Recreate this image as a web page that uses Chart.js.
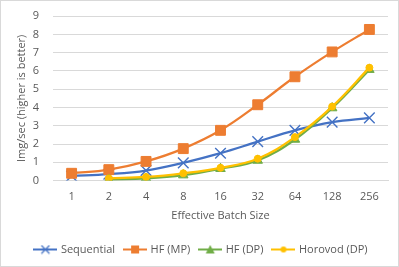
<!DOCTYPE html>
<html>
<head>
<meta charset="utf-8">
<script src="https://cdn.jsdelivr.net/npm/chart.js@4"></script>
<style>
  html, body { margin: 0; padding: 0; background: #fff; }
  #wrap { position: relative; width: 397px; height: 265px; border: 1px solid #d9d9d9; }
</style>
</head>
<body>
<div id="wrap"><canvas id="chart"></canvas></div>
<script>
// batch sizes on the x axis
const batchSizes = ['1', '2', '4', '8', '16', '32', '64', '128', '256'];

// throughput in img/sec
const sequential = [0.25, 0.35, 0.55, 0.97, 1.5, 2.13, 2.75, 3.2, 3.43];
const hfMP       = [0.4, 0.6, 1.05, 1.75, 2.75, 4.15, 5.68, 7.04, 8.27];
const hfDP       = [null, 0.05, 0.12, 0.3, 0.65, 1.1, 2.25, 3.97, 6.07];
const horovodDP  = [null, 0.12, 0.2, 0.4, 0.7, 1.2, 2.38, 4.05, 6.18];

const yTicks = [0, 1, 2, 3, 4, 5, 6, 7, 8, 9];

const FONT = "'Open Sans', 'Liberation Sans', sans-serif";
const TXT = '#595959';

// legend icon: short line with the marker in the middle (Excel style)
function legendIcon(color, style) {
  const c = document.createElement('canvas');
  c.width = 24; c.height = 10;
  const g = c.getContext('2d');
  g.strokeStyle = color; g.lineWidth = 2;
  g.beginPath(); g.moveTo(0, 5); g.lineTo(24, 5); g.stroke();
  g.fillStyle = color;
  if (style === 'rect') g.fillRect(8, 1, 8, 8);
  else if (style === 'triangle') { g.beginPath(); g.moveTo(12, 0.5); g.lineTo(16.5, 9); g.lineTo(7.5, 9); g.closePath(); g.fill(); }
  else if (style === 'circle') { g.beginPath(); g.arc(12, 5, 3, 0, Math.PI * 2); g.fill(); }
  else { g.lineWidth = 1.3; g.beginPath(); g.moveTo(8, 1); g.lineTo(16, 9); g.moveTo(16, 1); g.lineTo(8, 9); g.stroke(); }
  return c;
}

function series(label, data, color, style, radius, order) {
  return {
    label: label,
    data: data,
    order: order,
    borderColor: color,
    backgroundColor: color,
    borderWidth: 2.25,
    pointStyle: style,
    pointRadius: radius,
    pointBorderWidth: style === 'crossRot' ? 1.4 : 1,
    pointBorderColor: color,
    pointBackgroundColor: color,
    tension: 0.4,
    spanGaps: false,
    legendIcon: legendIcon(color, style)
  };
}

new Chart(document.getElementById('chart'), {
  type: 'line',
  data: {
    labels: batchSizes,
    datasets: [
      series('Sequential', sequential, '#4472C4', 'crossRot', 7.5, 4),
      series('HF (MP)', hfMP, '#ED7D31', 'rect', 7, 3),
      series('HF (DP)', hfDP, '#70AD47', 'triangle', 5.5, 2),
      series('Horovod (DP)', horovodDP, '#FFC000', 'circle', 3.5, 1)
    ]
  },
  options: {
    responsive: true,
    maintainAspectRatio: false,
    animation: false,
    layout: { padding: { left: 14, right: 10, top: 0, bottom: 1 } },
    plugins: {
      tooltip: { enabled: false },
      legend: {
        position: 'bottom',
        labels: {
          color: TXT,
          font: { family: FONT, size: 11 },
          usePointStyle: true,
          pointStyleWidth: 20,
          boxHeight: 10,
          padding: 10,
          generateLabels: chart => chart.data.datasets.map((ds, i) => ({
            text: ds.label,
            fontColor: TXT,
            pointStyle: ds.legendIcon,
            datasetIndex: i,
            hidden: false
          }))
        }
      }
    },
    scales: {
      x: {
        offset: true,
        grid: { display: false, drawTicks: false },
        border: { color: '#d9d9d9' },
        ticks: { color: TXT, font: { family: FONT, size: 11 }, padding: 10 },
        title: { display: true, text: 'Effective Batch Size', color: TXT, font: { family: FONT, size: 11 }, padding: { top: -5, bottom: 12 } }
      },
      y: {
        min: 0,
        max: 9,
        afterBuildTicks: axis => { axis.ticks = yTicks.map(v => ({ value: v })); },
        afterFit: axis => { axis.width = 38; },
        grid: { color: '#d9d9d9', drawTicks: false },
        border: { display: false },
        // small lineHeight keeps the top label from pushing the plot down
        ticks: { color: TXT, font: { family: FONT, size: 11, lineHeight: 0.2 }, padding: 14 },
        title: { display: true, text: 'Img/sec (higher is better)', color: TXT, font: { family: FONT, size: 11 }, padding: { top: 0, bottom: 0 } }
      }
    }
  }
});
</script>
</body>
</html>
